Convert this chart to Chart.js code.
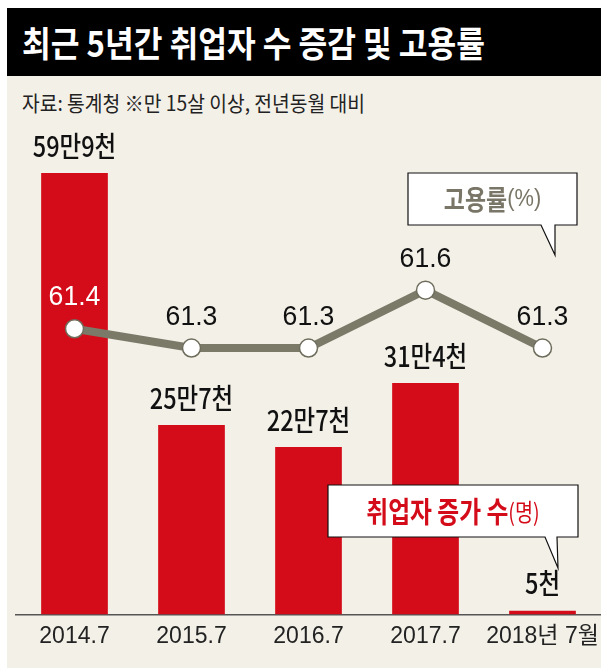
<!DOCTYPE html>
<html>
<head>
<meta charset="utf-8">
<script src="https://cdn.jsdelivr.net/npm/chart.js@4.4.1/dist/chart.umd.min.js"></script>
<style>
  html, body { margin: 0; padding: 0; background: #fff; }
  #wrap { position: absolute; left: 7px; top: 8px; width: 594px; height: 660px; background: #f3f0e8; overflow: hidden; }
  #title { height: 68px; background: #000; color: #fff; position: relative; }
  #title span, #sub span { position: absolute; left: 15px; white-space: nowrap; transform-origin: 0 50%; }
  #title span { top: 13px; font: bold 35px 'Noto Sans CJK KR', sans-serif; line-height: 42px; }
  #sub { height: 52px; position: relative; }
  #sub span { top: 12px; font: 21px 'Noto Sans CJK KR', sans-serif; line-height: 28px; color: #222; }
  #box { position: absolute; left: 0; top: 120px; width: 594px; height: 540px; }
</style>
</head>
<body>
<div id="wrap">
  <div id="title"><span data-w="463">최근 5년간 취업자 수 증감 및 고용률</span></div>
  <div id="sub"><span data-w="343">자료: 통계청 ※만 15살 이상, 전년동월 대비</span></div>
  <div id="box"><canvas id="chart" width="594" height="540"></canvas></div>
</div>
<script>
/* --- data --- */
const categories = ['2014.7', '2015.7', '2016.7', '2017.7', '2018년 7월'];
const hiresThousand = [599, 257, 227, 314, 5];
const hireLabels = ['59만9천', '25만7천', '22만7천', '31만4천', '5천'];
const employmentRate = [61.4, 61.3, 61.3, 61.6, 61.3];

const COLORS = {
  bar: '#d40c19',
  line: '#7b7a69',
  gray: '#7a7667',
  text: '#111',
  bg: '#f3f0e8'
};
const KR = "'Noto Sans CJK KR', sans-serif";
const NARROW = "'Liberation Sans Narrow', 'Liberation Sans', " + KR;

// squeeze header text to the width it has in the print graphic
document.querySelectorAll('[data-w]').forEach(el => {
  const w = el.getBoundingClientRect().width;
  el.style.transform = 'scaleX(' + (+el.dataset.w / w) + ')';
});

function squeezedText(ctx, text, x, y, sx) {
  ctx.save();
  ctx.translate(x, y);
  ctx.scale(sx, 1);
  ctx.fillText(text, 0, 0);
  ctx.restore();
}

function callout(ctx, box, tip, tailX, parts) {
  ctx.save();
  ctx.beginPath();
  ctx.moveTo(box.x, box.y);
  ctx.lineTo(box.x + box.w, box.y);
  ctx.lineTo(box.x + box.w, box.y + box.h);
  ctx.lineTo(tailX[1], box.y + box.h);
  ctx.lineTo(tip.x, tip.y);
  ctx.lineTo(tailX[0], box.y + box.h);
  ctx.lineTo(box.x, box.y + box.h);
  ctx.closePath();
  ctx.fillStyle = '#fff';
  ctx.fill();
  ctx.strokeStyle = '#111';
  ctx.lineWidth = 1.2;
  ctx.stroke();

  // text parts centred in the box
  ctx.textBaseline = 'middle';
  ctx.textAlign = 'left';
  let total = 0;
  parts.forEach(p => { ctx.font = p.font; p.w = ctx.measureText(p.text).width * p.sx; total += p.w; });
  let x = box.x + (box.w - total) / 2;
  parts.forEach(p => {
    ctx.font = p.font;
    ctx.fillStyle = p.color;
    squeezedText(ctx, p.text, x, box.y + box.h / 2 + 1, p.sx);
    x += p.w;
  });
  ctx.restore();
}

const labelPlugin = {
  id: 'labels',
  afterDatasetsDraw(chart) {
    const ctx = chart.ctx;
    const bars = chart.getDatasetMeta(0).data;
    const pts = chart.getDatasetMeta(1).data;
    ctx.save();
    ctx.textAlign = 'left';
    ctx.textBaseline = 'middle';

    // bar value labels
    ctx.font = '500 28px ' + KR;
    ctx.fillStyle = COLORS.text;
    bars.forEach((b, i) => {
      const sx = 0.84;
      const w = ctx.measureText(hireLabels[i]).width * sx;
      squeezedText(ctx, hireLabels[i], b.x - w / 2, b.y - 27, sx);
    });

    // employment rate labels
    ctx.font = '28px ' + NARROW;
    pts.forEach((p, i) => {
      const b = bars[i];
      const ly = p.y - 31;
      const txt = employmentRate[i].toFixed(1);
      const onBar = ly > b.y;
      ctx.fillStyle = onBar ? '#fff' : COLORS.text;
      const sx = 0.95;
      const w = ctx.measureText(txt).width * sx;
      squeezedText(ctx, txt, p.x - w / 2, ly, sx);
    });
    ctx.restore();

    // callouts
    callout(ctx, { x: 401, y: 45, w: 169, h: 52 }, { x: 548, y: 127 }, [534, 548], [
      { text: '고용률', font: 'bold 27px ' + KR, color: COLORS.gray, sx: 0.85 },
      { text: '(%)', font: '23px ' + NARROW, color: COLORS.gray, sx: 0.95 }
    ]);
    callout(ctx, { x: 321, y: 357, w: 250, h: 52 }, { x: 551, y: 440 }, [538, 550], [
      { text: '취업자 증가 수', font: 'bold 29px ' + KR, color: COLORS.bar, sx: 0.82 },
      { text: '(명)', font: '24px ' + KR, color: COLORS.bar, sx: 0.82 }
    ]);
  }
};

new Chart(document.getElementById('chart'), {
  type: 'bar',
  data: {
    labels: categories,
    datasets: [
      {
        type: 'bar',
        label: '취업자 증가 수',
        data: hiresThousand,
        backgroundColor: COLORS.bar,
        borderWidth: 0,
        barPercentage: 0.57,
        categoryPercentage: 1,
        yAxisID: 'y',
        order: 1
      },
      {
        type: 'line',
        label: '고용률',
        data: employmentRate,
        borderColor: COLORS.line,
        borderWidth: 8,
        pointRadius: 9,
        pointBackgroundColor: '#fff',
        pointBorderColor: '#6e6d5c',
        pointBorderWidth: 1.5,
        tension: 0,
        yAxisID: 'y2',
        order: 0
      }
    ]
  },
  options: {
    responsive: false,
    animation: false,
    layout: { autoPadding: false, padding: { left: 9, right: 0, top: 0, bottom: 10 } },
    plugins: {
      legend: { display: false },
      tooltip: { enabled: false }
    },
    scales: {
      x: {
        grid: { display: false, drawTicks: false },
        border: { display: true, color: '#555', width: 1.5 },
        ticks: { color: '#222', font: { family: NARROW, size: 23 }, padding: 8, maxRotation: 0, autoSkip: false },
        // the last label may run to the edge, don't shrink the plot for it
        afterFit: s => { s.paddingLeft = 0; s.paddingRight = 0; }
      },
      y: { display: false, min: 0, max: 660 },
      y2: { display: false, min: 59.92, max: 62.44 }
    }
  },
  plugins: [labelPlugin]
});
</script>
</body>
</html>
